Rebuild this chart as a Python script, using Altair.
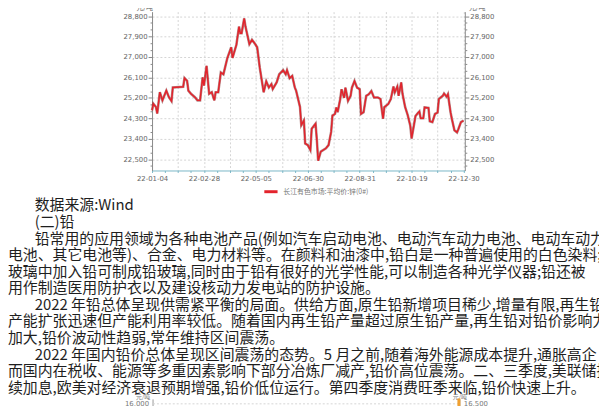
import altair as alt
import pandas as pd

# ---- series data (trading-day index, price in 元/吨) ----
day_idx = [0, 1, 3, 4, 6, 8, 11, 13, 15, 16, 24, 25, 27, 28, 30, 33, 35, 37, 39, 40,
           42, 44, 46, 48, 49, 51, 53, 55, 58, 61, 62, 65, 67, 68, 69, 71, 72, 75, 77, 79,
           81, 83, 85, 86, 88, 90, 92, 93, 96, 98, 101, 103, 104, 106, 108, 110, 111, 114, 115, 117,
           118, 120, 122, 123, 126, 127, 128, 130, 134, 136, 138, 139, 141, 142, 143, 145, 146, 148, 149, 151,
           153, 154, 156, 158, 160, 161, 163, 165, 167, 169, 171, 174, 176, 177, 178, 179, 182, 184, 186, 187,
           189, 190, 192, 193, 195, 197, 199, 200, 203, 205, 206, 207, 209, 210, 213, 214, 216, 218, 220, 221,
           224, 225, 227, 228, 230, 231, 233, 235, 236, 238, 240]
price = [24650, 24940, 24800, 24510, 25450, 25090, 25520, 25230, 25060, 25660, 25690, 26070, 25950, 25520, 25380, 25230, 25090, 25090, 26100, 25740,
         26610, 25380, 25450, 25090, 25450, 25450, 26320, 26240, 26950, 27430, 26960, 27540, 28340, 28050, 28050, 28700, 28340, 27570, 27760, 27610,
         27430, 26530, 25810, 25450, 25930, 25660, 25810, 25590, 25880, 26240, 26420, 26240, 26420, 26070, 26170, 25660, 25520, 24800, 24000, 24200,
         23190, 23120, 22900, 23840, 24060, 23340, 22430, 22830, 22980, 23120, 23700, 24420, 24500, 24780, 24570, 25150, 25580, 25200, 25650, 25070,
         25290, 25650, 25940, 25650, 25580, 24490, 24570, 25290, 25360, 25500, 25220, 25220, 25150, 24710, 24280, 24790, 24930, 25150, 25700, 25440,
         25700, 25290, 25880, 25380, 24800, 24440, 23970, 23410, 24400, 24540, 24600, 24300, 24300, 24780, 24760, 24170, 24130, 24490, 24550, 25150,
         25290, 25390, 25250, 25360, 24570, 24280, 23770, 23680, 23820, 24130, 24200]
series_name = "长江有色市场:平均价:锌(0#)"

x_label_idx = [0, 40, 80, 120, 160, 200, 240]
x_label_text = ["22-01-04", "22-02-28", "22-05-05", "22-06-30", "22-08-31", "22-10-19", "22-12-30"]
y_major_ticks = [22500, 23400, 24300, 25200, 26100, 27000, 27900, 28800]
unit = "元/吨"

paragraph = [
    "数据来源:Wind",
    "(二)铅",
    "铅常用的应用领域为各种电池产品(例如汽车启动电池、电动汽车动力电池、电动车动力",
    "电池、其它电池等)、合金、电力材料等。在颜料和油漆中,铅白是一种普遍使用的白色染料;在",
    "玻璃中加入铅可制成铅玻璃,同时由于铅有很好的光学性能,可以制造各种光学仪器;铅还被",
    "用作制造医用防护衣以及建设核动力发电站的防护设施。",
    "2022 年铅总体呈现供需紧平衡的局面。供给方面,原生铅新增项目稀少,增量有限,再生铅",
    "产能扩张迅速但产能利用率较低。随着国内再生铅产量超过原生铅产量,再生铅对铅价影响力",
    "加大,铅价波动性趋弱,常年维持区间震荡。",
    "2022 年国内铅价总体呈现区间震荡的态势。5 月之前,随着海外能源成本提升,通胀高企",
    "而国内在税收、能源等多重因素影响下部分冶炼厂减产,铅价高位震荡。二、三季度,美联储持",
    "续加息,欧美对经济衰退预期增强,铅价低位运行。第四季度消费旺季来临,铅价快速上升。",
]
indented = [0, 1, 2, 6, 9]
next_chart_labels = ["16,000", "16,500"]

df = pd.DataFrame({"idx": day_idx, "price": price, "series": series_name})

# page-to-chart offsets (page margin 8 + padding)
PAD_L, PAD_T = 146, 1
OX, OY = 8 + PAD_L, 8 + PAD_T

minor_y = list(range(22200, 28801, 300))
major_test = "datum.value % 900 == 0"

x_expr = " : ".join(f"datum.value == {i} ? '{t}'" for i, t in zip(x_label_idx, x_label_text)) + " : ''"

xscale = alt.Scale(domain=[0, 241], nice=False, zero=False)
yscale = alt.Scale(domain=[22000, 29000], nice=False, zero=False)

x_axis = alt.Axis(
    values=list(range(0, 241, 10)), labelExpr=x_expr, title=None,
    grid=True, gridDash=[2, 2], gridColor="#d4d4d4",
    gridOpacity={"condition": {"test": "datum.value % 20 == 0 && datum.value > 0", "value": 1}, "value": 0},
    domainColor="#79b6c6", tickColor="#79b6c6", tickSize=2,
    labelFontSize=7, labelColor="#666", labelFont="DejaVu Sans", labelPadding=2,
    labelFlush=False, labelOverlap=False,
)

def y_axis(orient, grid, title_x):
    return alt.Axis(
        orient=orient, values=minor_y,
        labelExpr=f"{major_test} ? format(datum.value, ',') : ''",
        tickSize={"condition": {"test": major_test, "value": 4}, "value": 2},
        grid=grid, gridDash=[2, 2], gridColor="#d4d4d4",
        gridOpacity={"condition": {"test": major_test, "value": 1}, "value": 0},
        domainColor="#888", tickColor="#888",
        labelFontSize=7, labelColor="#666", labelFont="DejaVu Sans", labelPadding=1,
        title=unit, titleAngle=0, titleFontSize=7, titleFontWeight="normal", titleColor="#666",
        titleFont="Noto Sans CJK SC", titleX=title_x, titleY=-1, titleAlign="center", titleBaseline="bottom",
    )

base = alt.Chart(df).encode(x=alt.X("idx:Q", scale=xscale, axis=x_axis))

under = base.mark_line(color="#7a2c2c", strokeWidth=2.6, opacity=0.55).encode(
    y=alt.Y("price:Q", scale=yscale, axis=y_axis("right", False, 12))
)
red = base.mark_line(strokeWidth=1.5).encode(
    y=alt.Y("price:Q", scale=yscale, axis=y_axis("left", True, -8)),
    color=alt.Color("series:N", scale=alt.Scale(domain=[series_name], range=["#e3232c"]),
                    legend=alt.Legend(orient="none", legendX=266 - OX, legendY=183 - OY, direction="horizontal",
                                      symbolType="stroke", symbolStrokeWidth=3, symbolSize=180,
                                      labelFontSize=7, labelColor="#777", labelFont="Noto Sans CJK SC", title=None)),
)

one = pd.DataFrame({"k": [0]})
layers = [under, red]

LINE0, LINE_H = 205.5, 16.8
FS = 15.1
for i, txt in enumerate(paragraph):
    px = 35 if i in indented else 8
    py = LINE0 + i * LINE_H
    layers.append(
        alt.Chart(pd.DataFrame({"t": [txt]})).mark_text(
            align="left", baseline="middle", fontSize=FS, font="Noto Sans CJK SC", color="#1e1e1e"
        ).encode(text="t:N", x=alt.value(px - OX), y=alt.value(py - OY))
    )

# top of the next chart (cut off by the page)
frag_style = dict(fontSize=7, color="#777", font="DejaVu Sans")
layers += [
    alt.Chart(one).mark_text(align="center", baseline="bottom", fontSize=6, color="#777", font="Noto Sans CJK SC")
      .encode(text=alt.value(unit), x=alt.value(145 - OX), y=alt.value(403 - OY)),
    alt.Chart(one).mark_text(align="center", baseline="bottom", fontSize=6, color="#777", font="Noto Sans CJK SC")
      .encode(text=alt.value(unit), x=alt.value(466 - OX), y=alt.value(403 - OY)),
    alt.Chart(one).mark_text(align="right", baseline="middle", **frag_style)
      .encode(text=alt.value(next_chart_labels[0]), x=alt.value(151 - OX), y=alt.value(406.5 - OY)),
    alt.Chart(one).mark_text(align="left", baseline="middle", **frag_style)
      .encode(text=alt.value(next_chart_labels[1]), x=alt.value(470 - OX), y=alt.value(406.5 - OY)),
    alt.Chart(one).mark_rule(color="#999", strokeWidth=1)
      .encode(x=alt.value(155 - OX), y=alt.value(402 - OY), y2=alt.value(412 - OY)),
    alt.Chart(one).mark_rule(color="#999", strokeWidth=1)
      .encode(x=alt.value(466 - OX), y=alt.value(402 - OY), y2=alt.value(412 - OY)),
    alt.Chart(one).mark_rule(color="#d4d4d4", strokeWidth=1, strokeDash=[2, 2])
      .encode(x=alt.value(155 - OX), x2=alt.value(466 - OX), y=alt.value(406.5 - OY)),
    alt.Chart(one).mark_rule(color="#f0a030", strokeWidth=3)
      .encode(x=alt.value(465 - OX), y=alt.value(401 - OY), y2=alt.value(412 - OY)),
]

chart = alt.layer(*layers).resolve_axis(y="independent").properties(
    width=317, height=161,
    autosize=alt.AutoSizeParams(type="none"),
    padding={"left": PAD_L, "top": PAD_T, "right": 607 - 8 - PAD_L - 317, "bottom": 406 - (OY + 161)},
    background="white",
).configure_view(stroke=None)

chart.save("out.html", embed_options={"renderer": "svg", "actions": False})
